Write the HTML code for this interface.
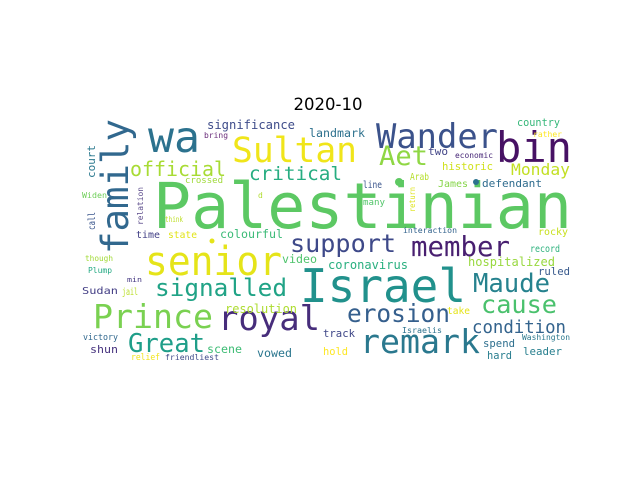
<!DOCTYPE html>
<html><head><meta charset="utf-8"><style>
html,body{margin:0;padding:0;background:#fff;}
svg{display:block;}
text.w{font-family:"DejaVu Sans Mono","Liberation Mono",monospace;}
</style></head><body>
<svg id="chart" width="640" height="480" viewBox="0 0 640 480" xmlns="http://www.w3.org/2000/svg">
<rect width="640" height="480" fill="#fff"/>
<text x="328" y="110" text-anchor="middle" font-family="DejaVu Sans, sans-serif" font-size="16.5" fill="#000">2020-10</text>
<g id="cloud"></g>
</svg>
<script>
const words = ["Palestinian","senior","Israel","wa","family","Sultan","Wander","bin","Aet","official","critical","support","member","signalled","Maude","Prince","royal","erosion","cause","remark","Great","condition","Monday","historic","Arab","significance","bring","landmark","crossed","court","Widen","relation","d","call","think","time","state","colourful",".","country","rather","two","economic","line","James","defendant","many","return","interaction","rocky","record","hospitalized","ruled","coronavirus","take","Israelis","track","Washington","spend","hold","leader","hard","though","Plump","min","Sudan","jail","video","resolution","victory","shun","scene","vowed","relief","friendliest",".","."];
const colors = ["#5cc863","#e5e419","#21918c","#2c728e","#31688e","#f0e51a","#3b528b","#471164","#8fd744","#a8db34","#27ad81","#3e4989","#481f70","#20a386","#26828e","#7ad151","#472d7b","#355f8d","#4ac16d","#2a788e","#1f9e89","#33638d","#c2df23","#d0e11c","#b5de2b","#3e4c8a","#6a2c7a","#2d718e","#a0da39","#2a788e","#6ece58","#5a4a8a","#b0dd2f","#39558c","#bddf26","#424086","#e2e418","#3aba76","#e5e419","#35b779","#fde725","#414487","#482878","#3a548c","#86d549","#2f6c8e","#52c569","#dde318","#33638d","#c8e020","#2db27d","#98d83e","#38598c","#29af7f","#e5e419","#2c728e","#3f4788","#2a788e","#2e6f8e","#fde725","#277f8e","#287d8e","#a2da37","#23a983","#453882","#433e85","#bade28","#4ec36b","#addc30","#31688e","#46327e","#3dbc74","#2a768e","#f1e51d","#3e4a89","#2c728e","#5ec962"];
// layout: [x, baselineY, fontSize, width, rotated]  (for "." : centre x, centre y, radius)
const layout = [[153,228,63,419,0],[145,275,40,137,0],[300,302,46,166,0],[148,152,43,52,0],[128,254,37,135,1],[232,162,35,125,0],[376,148,34,122,0],[496,162,42,76,0],[379,165,27,49,0],[130,176,20,96,0],[249,180,19,93,0],[290,252,25,106,0],[411,256,27.5,99,0],[155,296,24.4,132,0],[473,292,25.6,77,0],[93,328,33,120,0],[218,330,34,102,0],[347,322,24.5,103,0],[481,313,25,76,0],[360,353,33,120,0],[128,352,25.6,77,0],[472,333,17.4,94,0],[511,175,16.3,59,0],[442,170,10.6,51,0],[410,180,10,19,0],[207,129,12.2,88,0],[204,138,8,24,0],[309,137,11.6,56,0],[185,183,9,38,0],[95,178,11,33,1],[82,198,8,25,0],[143,225,8,38,1],[258,198,8,5,0],[95,230,10,18,1],[165,222,8,18,0],[136,238,10,24,0],[168,238,10,29,0],[220,238,11.7,63,0],[212,241,2.5,0,0],[517,126,10.3,43,0],[533,137,8,29,0],[428,155,11,20,0],[455,158,8,38,0],[363,188,9.5,19,0],[438,187,10,30,0],[482,187,11,60,0],[363,205,9,22,0],[415,212,8,25,1],[403,233,8.2,54,0],[538,235,10,30,0],[530,252,10,30,0],[468,266,12,87,0],[538,275,10.5,32,0],[328,269,12,80,0],[447,314,9.7,23,0],[402,333,8.3,40,0],[323,337,10.6,32,0],[522,340,8,48,0],[483,347,10.7,32,0],[323,355,10.5,25,0],[523,355,11,39,0],[487,359,10.5,25,0],[85,261,8,28,0],[88,273,8,24,0],[127,282,7,15,0],[82,294,10,36,0],[122,295,10,16,0],[282,263,11.5,35,0],[225,313,12,72,0],[83,340,8.5,35,0],[90,353,11,28,0],[207,353,11.5,35,0],[257,357,11.5,35,0],[131,360,8.5,29,0],[165,360,8.2,54,0],[476,182,3,0,0],[399,182,4,0,0]];
const g = document.getElementById('cloud');
const NS = 'http://www.w3.org/2000/svg';
words.forEach((w,i)=>{
  const [x,y,fs,wd,rot] = layout[i];
  if (w === '.') {
    const c = document.createElementNS(NS,'circle');
    
    
    c.setAttribute('cx', x); c.setAttribute('cy', y); c.setAttribute('r', fs);
    c.setAttribute('fill', colors[i]);
    g.appendChild(c);
    return;
  }
  const t = document.createElementNS(NS,'text');
  t.setAttribute('class','w');
  
  
  t.setAttribute('font-size', fs);
  t.setAttribute('fill', colors[i]);
  if (w.length > 1) {
    t.setAttribute('textLength', wd);
    t.setAttribute('lengthAdjust', 'spacingAndGlyphs');
  }
  if (rot) {
    t.setAttribute('x', 0); t.setAttribute('y', 0);
    t.setAttribute('transform', 'translate(' + x + ',' + y + ') rotate(-90)');
  } else {
    t.setAttribute('x', x); t.setAttribute('y', y);
  }
  t.textContent = w;
  g.appendChild(t);
});
</script>
</body></html>
